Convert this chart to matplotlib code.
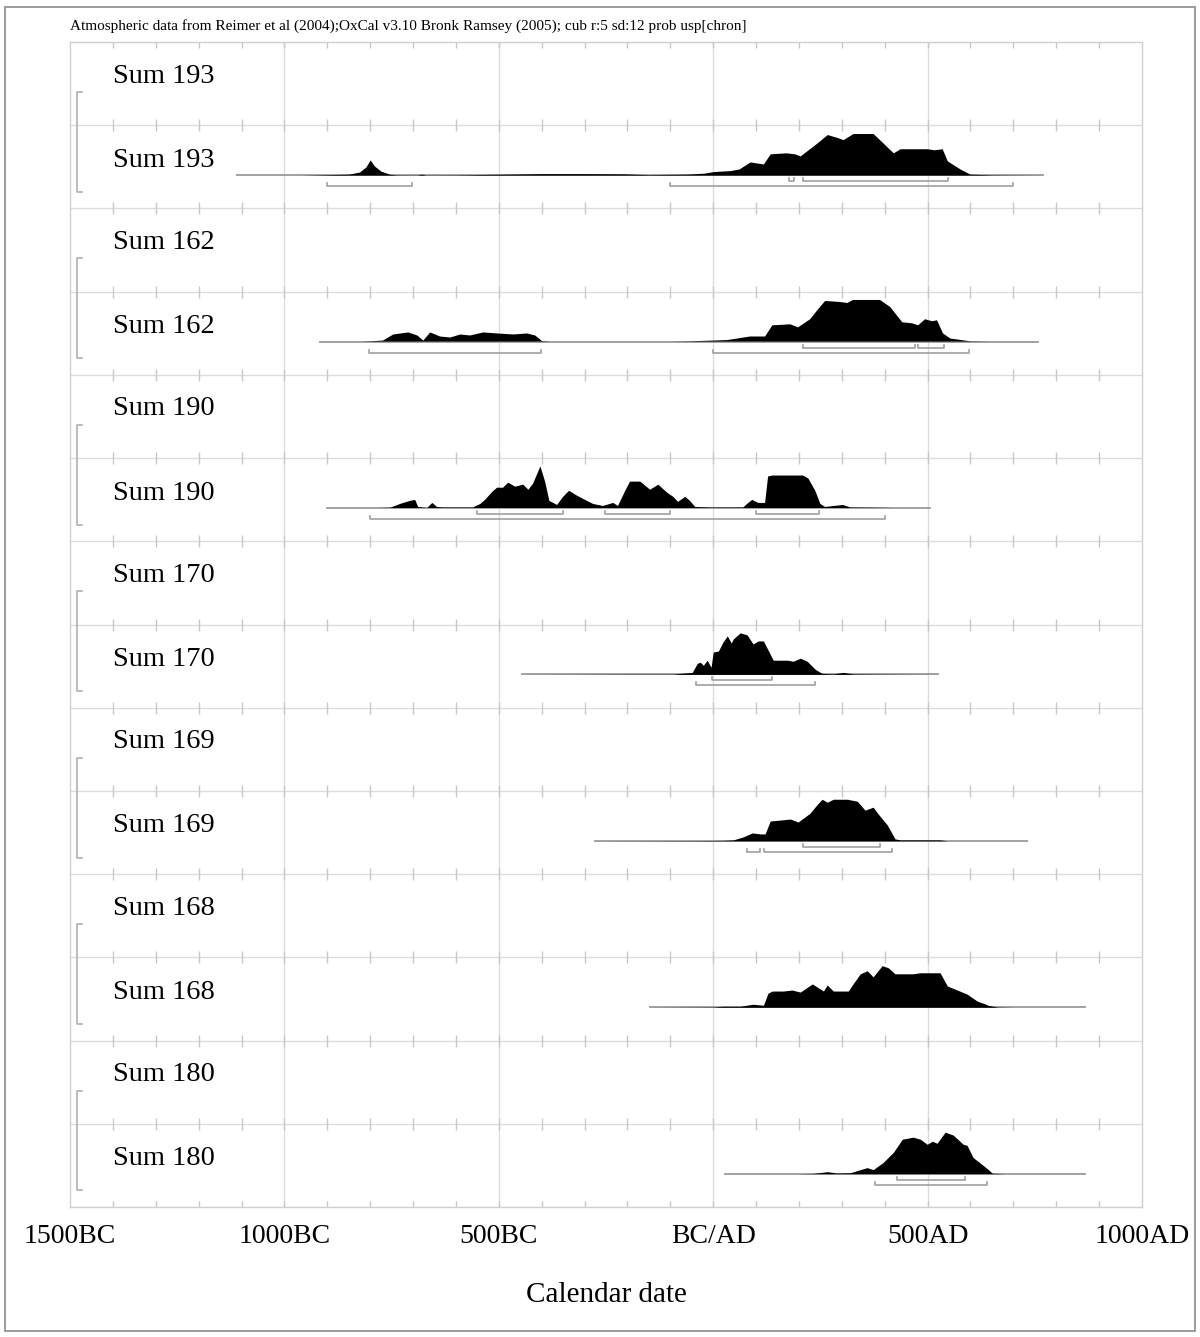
import matplotlib
matplotlib.use("Agg")
import matplotlib.pyplot as plt
from matplotlib.patches import Rectangle
import numpy as np

plt.rcParams['font.family'] = ['Liberation Serif', 'DejaVu Serif']

TITLE = ("Atmospheric data from Reimer et al (2004);OxCal v3.10 Bronk Ramsey (2005); "
         "cub r:5 sd:12 prob usp[chron]")

names = ["Sum 193", "Sum 162", "Sum 190", "Sum 170", "Sum 169", "Sum 168", "Sum 180"]

tick_years = [-1500, -1000, -500, 0, 500, 1000]
tick_labels = ["1500BC", "1000BC", "500BC", "BC/AD", "500AD", "1000AD"]

# summed probability distributions: (calendar year, relative probability)
sum193 = [(-1110, 0), (-960, 0), (-900, 0.5), (-850, 1), (-825, 3), (-810, 8), (-800, 15),
          (-790, 9), (-775, 4), (-755, 1), (-740, 0.3), (-690, 0.2), (-680, 1), (-670, 0.2),
          (-600, 0.3), (-400, 1.5), (-300, 1.5), (-210, 1.3), (-150, 0.5), (-60, 1), (-20, 2),
          (0, 3.5), (40, 4.5), (60, 6), (86, 13), (117, 11), (133, 21), (170, 22), (190, 21),
          (203, 19), (243, 32), (266, 40), (290, 37), (303, 35), (326, 41), (373, 41),
          (420, 22), (436, 26), (499, 26), (515, 25), (534, 26), (546, 14), (576, 6),
          (599, 1), (650, 0.3), (770, 0)]
sum162 = [(-917, 0), (-820, 0), (-800, 0.3), (-770, 1), (-746, 7), (-711, 9), (-690, 6),
          (-676, 1), (-660, 9), (-637, 5), (-613, 4), (-590, 7), (-567, 6), (-536, 9),
          (-504, 8), (-466, 7), (-434, 8), (-415, 6), (-399, 0.5), (-380, 0), (-100, 0),
          (-54, 0.3), (0, 1), (33, 1.5), (86, 5), (121, 5), (138, 16), (180, 17), (198, 14),
          (226, 22), (243, 31), (261, 40), (296, 39), (313, 38), (326, 41), (389, 41),
          (413, 34), (441, 19), (464, 18), (478, 16), (494, 22), (511, 20), (522, 21),
          (536, 8), (553, 3), (599, 0.3), (650, 0), (758, 0)]
sum190 = [(-900, 0), (-780, 0), (-753, 0.3), (-730, 4), (-707, 7), (-695, 8), (-688, 1),
          (-667, 0), (-655, 5), (-644, 1), (-630, 0.5), (-560, 0.5), (-543, 4), (-532, 8),
          (-515, 16), (-504, 20), (-490, 20), (-478, 25), (-462, 21), (-443, 23), (-431, 18),
          (-420, 24), (-403, 41), (-392, 26), (-382, 7), (-364, 3), (-350, 11), (-336, 17),
          (-317, 12), (-294, 7), (-280, 4), (-257, 2), (-233, 5), (-222, 2), (-205, 17),
          (-194, 26), (-170, 26), (-147, 18), (-128, 23), (-107, 15), (-93, 11), (-82, 6),
          (-65, 11), (-54, 7), (-42, 1), (-7, 0.5), (70, 0.5), (79, 4), (91, 8), (105, 5),
          (121, 5), (128, 31), (138, 32), (210, 32), (222, 29), (238, 17), (250, 4), (261, 1),
          (303, 3), (320, 0.5), (373, 0.3), (420, 0), (506, 0)]
sum170 = [(-445, 0), (-170, 0.3), (-93, 0.3), (-77, 1), (-49, 2), (-37, 11), (-30, 12),
          (-23, 9), (-14, 14), (-5, 7), (0, 22), (12, 23), (23, 32), (33, 38), (42, 31),
          (47, 35), (63, 41), (79, 39), (93, 30), (105, 33), (117, 33), (128, 24), (140, 14),
          (173, 14), (187, 13), (203, 16), (219, 13), (238, 5), (254, 1), (280, 0.5),
          (303, 2), (326, 0.5), (382, 0.3), (525, 0)]
sum169 = [(-275, 0), (-37, 0.3), (23, 0.5), (47, 1), (70, 4), (91, 8), (110, 7), (121, 7),
          (133, 20), (156, 21), (180, 22), (198, 19), (226, 28), (243, 37), (254, 42),
          (266, 39), (280, 42), (313, 42), (336, 40), (354, 31), (373, 34), (385, 27),
          (406, 16), (424, 2), (436, 1), (466, 1), (529, 1), (546, 0), (732, 0)]
sum168 = [(-147, 0), (0, 0.3), (23, 1), (63, 1), (93, 3), (117, 2), (128, 14), (138, 16),
          (163, 16), (184, 17), (203, 15), (231, 23), (250, 18), (257, 16), (266, 22),
          (280, 16), (315, 16), (326, 23), (343, 33), (359, 36), (373, 30), (394, 41),
          (408, 39), (424, 33), (466, 33), (483, 34), (529, 34), (546, 21), (569, 17),
          (592, 13), (616, 6), (630, 4), (641, 2), (662, 0.3), (700, 0), (868, 0)]
sum180 = [(28, 0), (200, 0), (233, 0.3), (266, 2), (289, 0.7), (320, 1), (343, 4), (359, 6),
          (373, 4), (396, 11), (420, 21), (441, 34), (466, 36), (483, 34), (499, 29),
          (511, 32), (522, 30), (541, 41), (560, 38), (583, 29), (592, 28), (606, 16),
          (627, 9), (639, 5), (651, 0.5), (680, 0), (868, 0)]

# highest posterior density ranges (68.2% and 95.4%)
hpd68 = [[(177, 189), (210, 548)],
         [(210, 471), (478, 539)],
         [(-550, -350), (-252, -100), (100, 247)],
         [(-2, 138)],
         [(210, 389)],
         [],
         [(429, 588)]]
hpd95 = [[(-900, -702), (-100, 700)],
         [(-802, -401), (0, 597)],
         [(-800, 400)],
         [(-40, 238)],
         [(79, 110), (119, 417)],
         [],
         [(378, 639)]]

distributions = [sum193, sum162, sum190, sum170, sum169, sum168, sum180]

W, H = 1200, 1337
fig = plt.figure(figsize=(W / 100, H / 100), dpi=100)
fig.patch.set_facecolor("white")

# outer border
fig.add_artist(Rectangle((5 / W, 1 - 1331 / H), 1190 / W, 1324 / H, transform=fig.transFigure,
                         fill=False, edgecolor="#8a8a8a", linewidth=1.2))

left, right, top, bottom = 70, 1142, 42, 1207
ax = fig.add_axes([left / W, 1 - bottom / H, (right - left) / W, (bottom - top) / H])
nrows = 2 * len(names)
ax.set_xlim(-1500, 1000)
ax.set_ylim(nrows, 0)
row_px = (bottom - top) / nrows
px = 1.0 / row_px  # one pixel in row units

for s in ax.spines.values():
    s.set_color("#cfcfcf")
    s.set_linewidth(1.0)

grid_col = "#dcdcdc"
tick_col = "#c8c8c8"
for yr in range(-1000, 1000, 500):
    ax.axvline(yr, color=grid_col, lw=1.0, zorder=0)
for r in range(1, nrows):
    ax.axhline(r, color=grid_col, lw=1.0, zorder=0)
minor = np.arange(-1400, 1000, 100)
for r in range(0, nrows + 1):
    lo = r - 6 * px if r > 0 else r
    hi = r + 6 * px if r < nrows else r
    ax.vlines(minor, lo, hi, color=tick_col, lw=1.0, zorder=0)

ax.set_xticks(tick_years)
ax.set_xticklabels(tick_labels, fontsize=20)
ax.tick_params(axis="x", length=0, pad=12)
ax.set_yticks([])
ax.set_xlabel("Calendar date", fontsize=21, labelpad=24)

label_x = (113 - left) / (right - left)
hmax = 0.5
for k, (name, dist) in enumerate(zip(names, distributions)):
    r0 = 2 * k
    r1 = 2 * k + 1
    ax.text(label_x, r0 + 0.41, name, transform=ax.get_yaxis_transform(),
            fontsize=20.5, va="center", ha="left")
    ax.text(label_x, r1 + 0.42, name, transform=ax.get_yaxis_transform(),
            fontsize=20.5, va="center", ha="left")

    yrs = np.array([p[0] for p in dist], dtype=float)
    prob = np.array([p[1] for p in dist], dtype=float)
    base = r1 + 0.6
    ax.plot([yrs[0], yrs[-1]], [base, base], color="#9a9a9a", lw=1.3, zorder=2)
    ax.fill_between(yrs, base, base - hmax * prob / prob.max(), where=prob > 0,
                    interpolate=True, color="black", lw=0.0, zorder=3)

    for lvl, ranges in ((6, hpd68[k]), (11, hpd95[k])):
        yb = base + lvl * px
        for a, b in ranges:
            ax.plot([a, a, b, b], [yb - 3 * px, yb, yb, yb - 3 * px],
                    color="#a0a0a0", lw=1.2, zorder=2)

    # bracket joining the two rows of the group
    yt = r0 + 0.6
    ybm = r1 + 0.8
    bx0 = (77 - left) / (right - left)
    bx1 = (82 - left) / (right - left)
    ax.plot([bx1, bx0, bx0, bx1], [yt, yt, ybm, ybm], transform=ax.get_yaxis_transform(),
            color="#b0b0b0", lw=1.2, clip_on=False)

fig.text(left / W, 1 - 26 / H, TITLE, fontsize=11, va="center", ha="left")

fig.savefig("out.png", dpi=100, facecolor="white")
